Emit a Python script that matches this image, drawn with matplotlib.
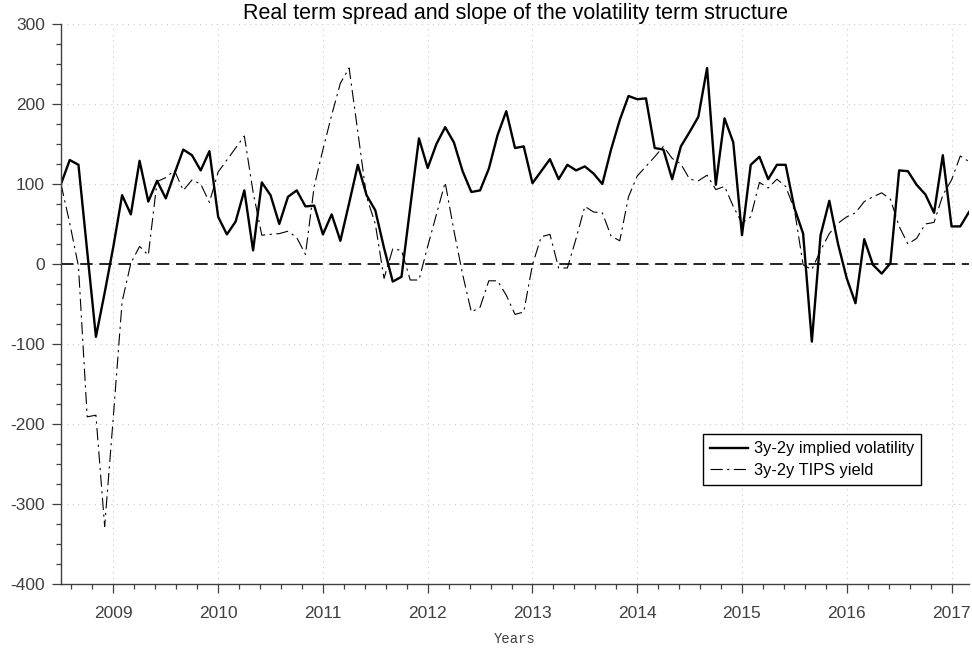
import numpy as np
import matplotlib.pyplot as plt
from matplotlib.ticker import MultipleLocator

plt.rcParams['font.family'] = ['Liberation Sans', 'DejaVu Sans']
plt.rcParams['axes.unicode_minus'] = False

# datos mensuales, julio 2008 -> marzo 2017 (puntos basicos)
start_year = 2008.5
implied_vol = [100, 130, 124, 16, -91, -36, 22, 86, 62, 129,
               78, 104, 82, 113, 143, 136, 117, 141, 59, 37,
               53, 92, 17, 102, 86, 50, 84, 92, 72, 73,
               37, 62, 29, 76, 124, 86, 67, 20, -22, -16,
               71, 157, 120, 150, 171, 152, 116, 90, 92, 119,
               161, 191, 145, 147, 101, 116, 131, 106, 124, 117,
               122, 113, 100, 143, 180, 210, 206, 207, 145, 143,
               106, 147, 165, 184, 245, 99, 182, 152, 36, 124,
               134, 106, 124, 124, 70, 38, -97, 36, 79, 25,
               -18, -49, 31, -1, -12, 1, 117, 116, 99, 87,
               64, 136, 47, 47, 65]
tips_yield = [100, 51, -3, -191, -189, -328, -190, -47, 1, 22,
              11, 103, 108, 117, 92, 105, 100, 77, 115, 130,
              145, 160, 90, 36, 37, 38, 41, 33, 12, 97,
              143, 186, 226, 245, 165, 84, 50, -18, 19, 17,
              -20, -20, 22, 62, 102, 42, -13, -60, -54, -21,
              -21, -39, -63, -60, -1, 34, 37, -5, -5, 32,
              72, 65, 64, 35, 29, 84, 110, 122, 134, 147,
              132, 125, 106, 104, 111, 93, 97, 72, 51, 59,
              102, 95, 106, 97, 68, -1, -7, 17, 38, 51,
              59, 64, 78, 84, 89, 81, 47, 25, 32, 50,
              52, 86, 105, 135, 128]
years = start_year + np.arange(len(implied_vol)) / 12.0

fig = plt.figure(figsize=(9.72, 6.51), dpi=100)
ax = fig.add_axes([61 / 972, 1 - 584 / 651, 908 / 972, 560 / 651])

ax.plot(years, implied_vol, color='black', lw=1.7, label='3y-2y implied volatility')
ax.plot(years, tips_yield, color='black', lw=0.8, linestyle=(0, (11, 4, 2, 4)),
        label='3y-2y TIPS yield')
ax.axhline(0, color='black', lw=1.2, linestyle=(0, (7.5, 4)))

ax.set_xlim(years[0], years[-1])
ax.set_ylim(-400, 300)
ax.xaxis.set_major_locator(MultipleLocator(1))
ax.xaxis.set_minor_locator(MultipleLocator(0.2))
ax.yaxis.set_major_locator(MultipleLocator(100))
ax.yaxis.set_minor_locator(MultipleLocator(25))

gris = '#404040'
for s in ['top', 'right']:
    ax.spines[s].set_visible(False)
for s in ['left', 'bottom']:
    ax.spines[s].set_color(gris)
    ax.spines[s].set_linewidth(1.0)
ax.tick_params(which='major', length=6.5, width=0.9, color=gris, labelcolor=gris, labelsize=12.5)
ax.tick_params(which='minor', length=3.5, width=0.9, color=gris)
ax.tick_params(axis='x', which='major', pad=9)
ax.tick_params(axis='y', which='major', pad=5)

ax.grid(True, which='major', color='#c8c8c8', lw=0.7, linestyle=(0, (1.2, 4.5)))
ax.set_axisbelow(True)

ax.set_title('Real term spread and slope of the volatility term structure',
             fontsize=15.5, color='black', pad=3.5)
ax.set_xlabel('Years', family='Liberation Mono', fontsize=10, color=gris, labelpad=8)

leg = ax.legend(loc='upper left', bbox_to_anchor=(703 / 972, 1 - 434 / 651),
                bbox_transform=fig.transFigure, borderaxespad=0, fontsize=11.8,
                fancybox=False, framealpha=1, edgecolor='black',
                handlelength=2.3, handletextpad=0.35, borderpad=0.45, labelspacing=0.4)
leg.get_frame().set_linewidth(1.0)

fig.savefig('out.png', dpi=100)
